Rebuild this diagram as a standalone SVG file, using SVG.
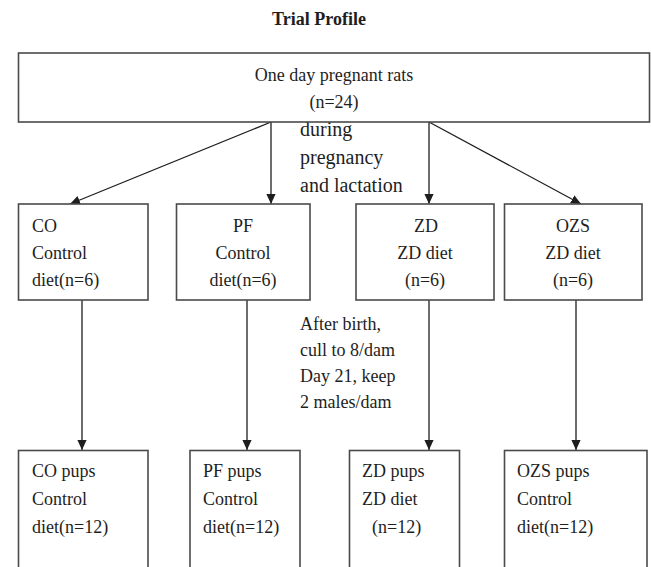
<svg xmlns="http://www.w3.org/2000/svg" width="651" height="567" viewBox="0 0 651 567">
<defs>
<style>
.box{fill:#fff;stroke:#4a4a4a;stroke-width:1.6}
text{font-family:'Liberation Serif','Times New Roman',Times,'DejaVu Serif',serif;font-size:18px;fill:#1e1e1e}
.c{text-anchor:middle}
.big{font-size:20px}
.title{font-weight:bold;text-anchor:middle}
.ln{stroke:#1e1e1e;stroke-width:1.3;fill:none}
</style>
<marker id="ah" markerUnits="userSpaceOnUse" markerWidth="10" markerHeight="10" refX="10" refY="4.6" orient="auto" viewBox="0 0 10 9.2">
<path d="M0,0 L10,4.6 L0,9.2 z" fill="#1e1e1e"/>
</marker>
</defs>
<rect width="651" height="567" fill="#fff"/>
<text class="title" x="319" y="25">Trial Profile</text>

<g id="connectors">
<line class="ln" x1="271" y1="122" x2="70" y2="204" marker-end="url(#ah)"/>
<line class="ln" x1="271" y1="122" x2="271" y2="204" marker-end="url(#ah)"/>
<line class="ln" x1="429" y1="122" x2="429" y2="204" marker-end="url(#ah)"/>
<line class="ln" x1="429" y1="122" x2="581" y2="204" marker-end="url(#ah)"/>
<line class="ln" x1="82" y1="300" x2="82" y2="450" marker-end="url(#ah)"/>
<line class="ln" x1="247" y1="300" x2="247" y2="450" marker-end="url(#ah)"/>
<line class="ln" x1="429" y1="300" x2="429" y2="450" marker-end="url(#ah)"/>
<line class="ln" x1="576" y1="300" x2="576" y2="450" marker-end="url(#ah)"/>
<text class="big" x="300" y="136">during</text>
<text class="big" x="300" y="164">pregnancy</text>
<text class="big" x="300" y="192">and lactation</text>
<text x="300" y="330">After birth,</text>
<text x="300" y="356">cull to 8/dam</text>
<text x="300" y="382">Day 21, keep</text>
<text x="300" y="408">2 males/dam</text>
</g>

<g id="top">
<rect class="box" x="18.5" y="53" width="631" height="69"/>
<text class="c" x="334" y="81">One day pregnant rats</text>
<text class="c" x="334" y="108">(n=24)</text>
</g>

<g id="co">
<rect class="box" x="18.5" y="204" width="129.5" height="96"/>
<text x="32" y="232">CO</text>
<text x="32" y="259">Control</text>
<text x="32" y="286">diet(n=6)</text>
</g>
<g id="pf">
<rect class="box" x="176.5" y="204" width="133.5" height="96"/>
<text class="c" x="243" y="232">PF</text>
<text class="c" x="243" y="259">Control</text>
<text class="c" x="243" y="286">diet(n=6)</text>
</g>
<g id="zd">
<rect class="box" x="356" y="204" width="138" height="96"/>
<text class="c" x="426" y="232">ZD</text>
<text class="c" x="425" y="259">ZD diet</text>
<text class="c" x="425" y="286">(n=6)</text>
</g>
<g id="ozs">
<rect class="box" x="504.5" y="204" width="137.5" height="96"/>
<text class="c" x="573" y="232">OZS</text>
<text class="c" x="573" y="259">ZD diet</text>
<text class="c" x="573" y="286">(n=6)</text>
</g>

<g id="co-pups">
<rect class="box" x="18.5" y="450.5" width="129.5" height="130"/>
<text x="32" y="477">CO pups</text>
<text x="32" y="505">Control</text>
<text x="32" y="533">diet(n=12)</text>
</g>
<g id="pf-pups">
<rect class="box" x="190" y="450.5" width="110" height="130"/>
<text x="203" y="477">PF pups</text>
<text x="203" y="505">Control</text>
<text x="203" y="533">diet(n=12)</text>
</g>
<g id="zd-pups">
<rect class="box" x="349.5" y="450.5" width="110" height="130"/>
<text x="362" y="477">ZD pups</text>
<text x="362" y="505">ZD diet</text>
<text x="372" y="533">(n=12)</text>
</g>
<g id="ozs-pups">
<rect class="box" x="504.5" y="450.5" width="142.5" height="130"/>
<text x="517" y="477">OZS pups</text>
<text x="517" y="505">Control</text>
<text x="517" y="533">diet(n=12)</text>
</g>
</svg>
